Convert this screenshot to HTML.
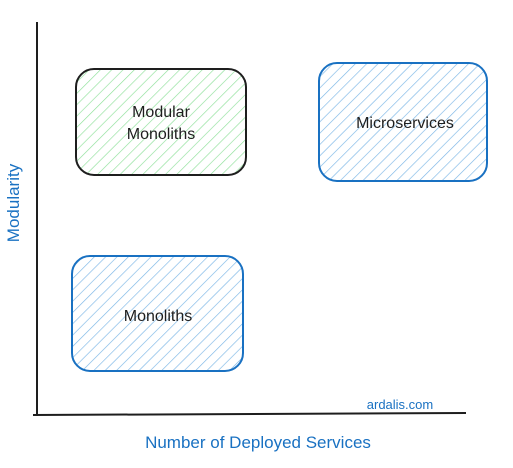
<!DOCTYPE html>
<html><head><style>body{margin:0;background:#fff}svg{display:block}</style></head><body>
<svg width="513" height="468" xmlns="http://www.w3.org/2000/svg" font-family="'Comic Sans MS','Liberation Sans',sans-serif">
<defs>
<pattern id="g" width="8" height="8" patternUnits="userSpaceOnUse" patternTransform="rotate(45)"><line x1="0" y1="0" x2="0" y2="8" stroke="#8ee09a" stroke-width="1.3"/></pattern>
<pattern id="b" width="8" height="8" patternUnits="userSpaceOnUse" patternTransform="rotate(45)"><line x1="0" y1="0" x2="0" y2="8" stroke="#7cb6e6" stroke-width="1.3"/></pattern>
</defs>
<line x1="37" y1="22" x2="37" y2="416" stroke="#1e1e1e" stroke-width="2"/>
<line x1="33" y1="415" x2="466" y2="413" stroke="#1e1e1e" stroke-width="2"/>
<rect x="76" y="69" width="170" height="106" rx="18" fill="url(#g)" stroke="#1e1e1e" stroke-width="2"/>
<rect x="319" y="63" width="168" height="118" rx="18" fill="url(#b)" stroke="#1971c2" stroke-width="2"/>
<rect x="72" y="256" width="171" height="115" rx="18" fill="url(#b)" stroke="#1971c2" stroke-width="2"/>
<g font-size="16" fill="#1e1e1e" text-anchor="middle">
<text x="161" y="117">Modular</text>
<text x="161" y="139">Monoliths</text>
<text x="405" y="128">Microservices</text>
<text x="158" y="321">Monoliths</text>
</g>
<g fill="#1971c2">
<text x="400" y="409" font-size="13" text-anchor="middle">ardalis.com</text>
<text x="258" y="448" font-size="17" text-anchor="middle">Number of Deployed Services</text>
<text x="0" y="0" font-size="17" text-anchor="middle" transform="translate(19,203) rotate(-90)">Modularity</text>
</g>
</svg>
</body></html>
